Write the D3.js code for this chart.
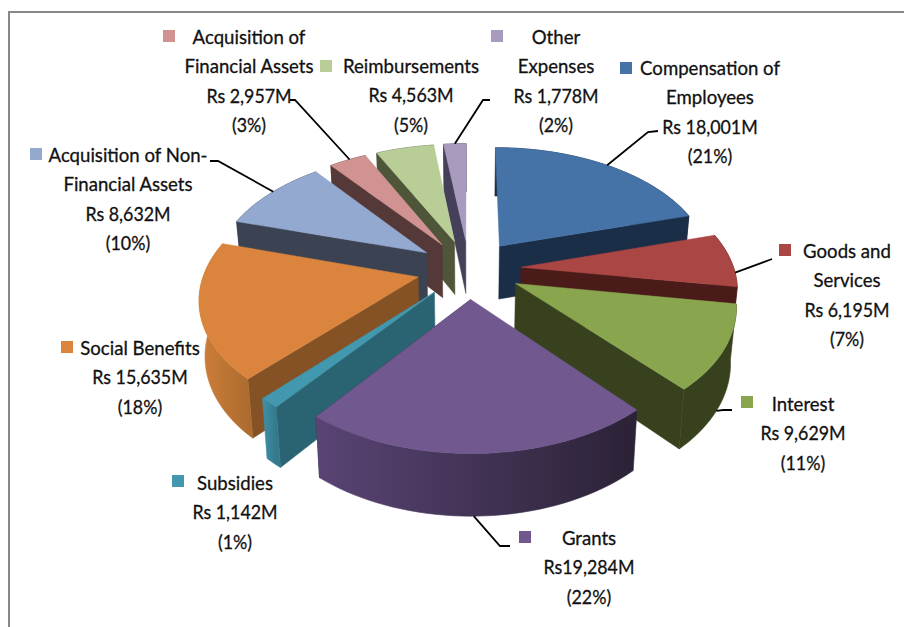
<!DOCTYPE html>
<html>
<head>
<meta charset="utf-8">
<script src="https://cdn.jsdelivr.net/npm/d3@7"></script>
<style>
  html, body { margin: 0; padding: 0; background: #fff; }
  text { font-family: Lato, "Noto Sans", sans-serif; font-size: 20px; font-weight: 400; fill: #111; stroke: #111; stroke-width: 0.3px; text-anchor: middle; }
</style>
</head>
<body>
<div id="chart"></div>
<script>
var categories = ["Compensation of Employees", "Goods and Services", "Interest", "Grants", "Subsidies",
  "Social Benefits", "Acquisition of Non-Financial Assets", "Acquisition of Financial Assets", "Reimbursements", "Other Expenses"];
var values = [18001, 6195, 9629, 19284, 1142, 15635, 8632, 2957, 4563, 1778];
var labelLines = [
  ["Compensation of", "Employees", "Rs 18,001M", "(21%)"],
  ["Goods and", "Services", "Rs 6,195M", "(7%)"],
  ["Interest", "Rs 9,629M", "(11%)"],
  ["Grants", "Rs19,284M", "(22%)"],
  ["Subsidies", "Rs 1,142M", "(1%)"],
  ["Social Benefits", "Rs 15,635M", "(18%)"],
  ["Acquisition of Non-", "Financial Assets", "Rs 8,632M", "(10%)"],
  ["Acquisition of", "Financial Assets", "Rs 2,957M", "(3%)"],
  ["Reimbursements", "Rs 4,563M", "(5%)"],
  ["Other", "Expenses", "Rs 1,778M", "(2%)"]
];

var topColors = ["#4572a7", "#aa4643", "#89a54e", "#71588f", "#4198af", "#db843d", "#93a9cf", "#d19392", "#b9cd96", "#a99bbd"];
var sideColors = ["#1b2e47", "#4a1b19", "#38411e", "#2d2339", "#2a6473", "#845224", "#3b4252", "#553838", "#4e5539", "#44405a"];
var wallLeft = ["#1b2e47", "#4a1b19", "#38411e", "#594474", "#3f90a8", "#cf7f3a", "#3b4252", "#553838", "#4e5539", "#44405a"];
var wallRight = ["#1b2e47", "#4a1b19", "#38411e", "#2b2236", "#35798c", "#ad6c2f", "#3b4252", "#553838", "#4e5539", "#44405a"];

// label placement: centre x, first line y, marker centre, leader bend points
var labelX = [710, 847, 803, 589, 235, 140, 128, 249, 411, 556];
var labelY = [68, 251, 404, 538, 483, 348, 155, 37, 66, 37];
var markerX = [626, 785, 747, 525, 178, 67, 36, 169, 326, 497];
var markerY = [68, 250, 402, 537, 481, 347, 154, 36, 66, 36];
var leaderBends = [
  [[648, 132], [658, 131]],
  [[772, 259]],
  [[723, 410], [732, 410]],
  [[500, 546], [510, 546]],
  null,
  null,
  [[218, 161], [210, 161]],
  [[295, 100], [290, 100]],
  null,
  [[483, 100], [490, 100]]
];
var leaderAngle = [0.5, 0.74, 0.55, 0.515, 0, 0, 0.53, 0.55, 0, 0.5]; // where on the slice arc the leader lands

var width = 904, height = 627;
var cx = 469, cy = 269;
var Sx = 213, Sy = 120;     // ground plane scale
var persp = 0.153;          // front bigger than back
var explode = 0.245;
var depth = 54;
var bottomShrink = 0.978;

var svg = d3.select("#chart").append("svg")
  .attr("width", width)
  .attr("height", height);

var defs = svg.append("defs");

// frame, only top and left edges show in the picture
svg.append("path")
  .attr("d", "M9,627V12H904")
  .attr("fill", "none")
  .attr("stroke", "#888")
  .attr("stroke-width", 2);

var pie = d3.pie().sort(null).value(function(d) { return d; });
var arcs = pie(values).map(function(d, i) {
  d.i = i;
  d.mid = (d.startAngle + d.endAngle) / 2;
  return d;
});

// project a point of the slice (r = 0 apex, r = 1 rim) onto the screen
function project(d, r, a, low) {
  var x = r * Math.sin(a) + explode * Math.sin(d.mid);
  var z = -r * Math.cos(a) - explode * Math.cos(d.mid);
  var f = 1 / (1 - persp * z);
  var sx = Sx * x * f, sy = Sy * z * f;
  if (low) return [cx + sx * bottomShrink, cy + sy * bottomShrink + depth * f];
  return [cx + sx, cy + sy];
}

function rimAngles(d) {
  return d3.range(0, 41).map(function(k) {
    return d.startAngle + (d.endAngle - d.startAngle) * k / 40;
  });
}

var line = d3.line();

// back slices first
var order = arcs.slice().sort(function(a, b) {
  return (-Math.cos(a.mid)) - (-Math.cos(b.mid));
});

var slices = svg.selectAll("g.slice")
  .data(order)
  .enter()
  .append("g")
  .attr("class", "slice");

// gradient for the rim wall
slices.each(function(d) {
  var g = defs.append("linearGradient")
    .attr("id", "wall" + d.i)
    .attr("gradientUnits", "userSpaceOnUse");
  var xs = rimAngles(d).map(function(a) { return project(d, 1, a)[0]; });
  g.attr("x1", d3.min(xs)).attr("x2", d3.max(xs)).attr("y1", 0).attr("y2", 0);
  g.append("stop").attr("offset", 0).attr("stop-color", wallLeft[d.i]);
  g.append("stop").attr("offset", 1).attr("stop-color", wallRight[d.i]);
});

// radial side wall
slices.append("path")
  .attr("d", function(d) {
    var a = d.mid < Math.PI ? d.endAngle : d.startAngle;
    return line([project(d, 0, a), project(d, 1, a), project(d, 1, a, true), project(d, 0, a, true)]) + "Z";
  })
  .attr("fill", function(d) { return sideColors[d.i]; })
  .attr("stroke", function(d) { return sideColors[d.i]; })
  .attr("stroke-width", 0.5);

// rim wall
slices.append("path")
  .attr("d", function(d) {
    var as = rimAngles(d);
    var up = as.map(function(a) { return project(d, 1, a); });
    var down = as.slice().reverse().map(function(a) { return project(d, 1, a, true); });
    return line(up.concat(down)) + "Z";
  })
  .attr("fill", function(d) { return "url(#wall" + d.i + ")"; })
  .attr("stroke", function(d) { return "url(#wall" + d.i + ")"; })
  .attr("stroke-width", 0.6);

// top face
slices.append("path")
  .attr("d", function(d) {
    var pts = rimAngles(d).map(function(a) { return project(d, 1, a); });
    pts.unshift(project(d, 0, d.mid));
    return line(pts) + "Z";
  })
  .attr("fill", function(d) { return topColors[d.i]; })
  .attr("stroke", function(d) { return topColors[d.i]; })
  .attr("stroke-width", 0.5);

// leader lines
arcs.forEach(function(d, i) {
  if (!leaderBends[i]) return;
  var a = d.startAngle + (d.endAngle - d.startAngle) * leaderAngle[i];
  var onFront = d.i === 2 || d.i === 3;
  var pts = [project(d, 1, a, onFront)].concat(leaderBends[i]);
  svg.append("path")
    .attr("d", line(pts))
    .attr("fill", "none")
    .attr("stroke", "#000")
    .attr("stroke-width", 1.8);
});

// markers and labels
svg.selectAll("rect.marker")
  .data(arcs)
  .enter()
  .append("rect")
  .attr("class", "marker")
  .attr("x", function(d) { return markerX[d.i] - 6; })
  .attr("y", function(d) { return markerY[d.i] - 6; })
  .attr("width", 12)
  .attr("height", 12)
  .attr("fill", function(d) { return topColors[d.i]; });

// amounts are narrower in the picture than the words, so squeeze them more
arcs.forEach(function(d) {
  svg.append("g")
    .selectAll("text")
    .data(labelLines[d.i])
    .enter()
    .append("text")
    .attr("transform", function(t, k) {
      var squeeze = /^(Rs|\()/.test(t) ? 0.89 : 0.93;
      return "translate(" + labelX[d.i] + "," + (labelY[d.i] + 7 + k * 29.3) + ") scale(" + squeeze + ",1)";
    })
    .text(function(t) { return t; });
});
</script>
</body>
</html>
